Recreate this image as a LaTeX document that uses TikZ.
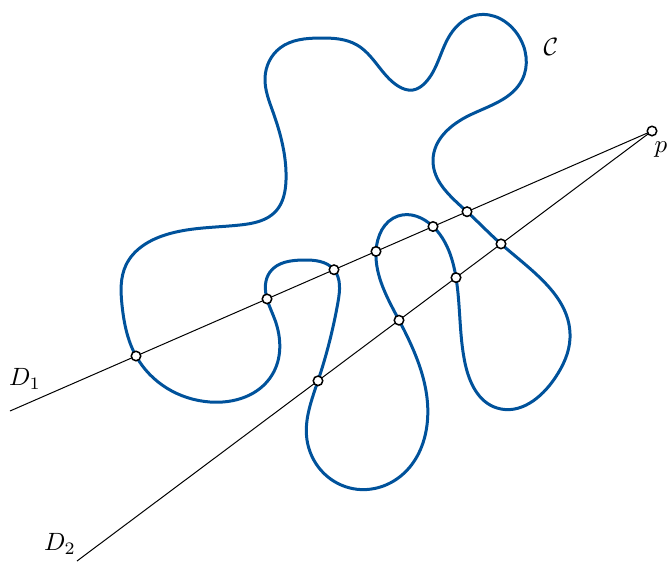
\documentclass[tikz,border=0pt]{standalone}
\usetikzlibrary{calc,hobby}
\definecolor{curveblue}{RGB}{0,82,155}
\begin{document}
\begin{tikzpicture}[x=0.4pt,y=-0.4pt,
  curvestyle/.style={draw=curveblue,line width=1.2pt},
  linestyle/.style={draw=black,line width=0.4pt},
  pt/.style={circle,draw=black,fill=white,line width=0.6pt,inner sep=0pt,minimum size=3.8pt}]
\useasboundingbox (0,0) rectangle (667,562);
% lines
\coordinate (p) at (652,131);
\coordinate (e1) at (10,411);
\coordinate (e2) at (77,561);
\draw[linestyle] (e1) -- (p);
\draw[linestyle] (e2) -- (p);
% curve
\draw[curvestyle,use Hobby shortcut,closed=true]
 (267,298.9) .. (270,272) .. (303,260) .. (334,269.7) .. (338,302) .. (318,380.8)
 .. (307,440) .. (350,488) .. (402,475) .. (427,425) .. (399,320.2) .. (376,251.4)
 .. (398,216) .. (433,226.5) .. (456,277.6) .. (465,363) .. (497,408)
 .. (555,378) .. (570,338) .. (501,243.9) .. (467,211.7) .. (433,160) .. (470,115) .. (522,80)
 .. (518,35) .. (477,15) .. (450,35) .. (425,83) .. (413,90) .. (398,86) .. (357,45)
 .. (320,38) .. (280,48) .. (265,78) .. (273,112) .. (286,180) .. (276,211)
 .. (240,225) .. (165,235) .. (126,265) .. (122,305)
 .. (136,356) .. (210,402) .. (272,375) .. (275,320);
% intersection markers
\node[pt] (a1) at (467,211.7) {};
\node[pt] (a2) at (433,226.5) {};
\node[pt] (a3) at (376,251.4) {};
\node[pt] (a4) at (334,269.7) {};
\node[pt] (a5) at (267,298.9) {};
\node[pt] (a6) at (136,356) {};
\node[pt] (b1) at (501,243.9) {};
\node[pt] (b2) at (456,277.6) {};
\node[pt] (b3) at (399,320.2) {};
\node[pt] (b4) at (318,380.8) {};
\node[pt] (pp) at (p) {};
% labels
\node (lp) at (661,150) {$p$};
\node (lc) at (551,47) {$\mathcal{C}$};
\node (ld1) at (25,379) {$D_1$};
\node (ld2) at (60,544) {$D_2$};
\end{tikzpicture}
\end{document}
